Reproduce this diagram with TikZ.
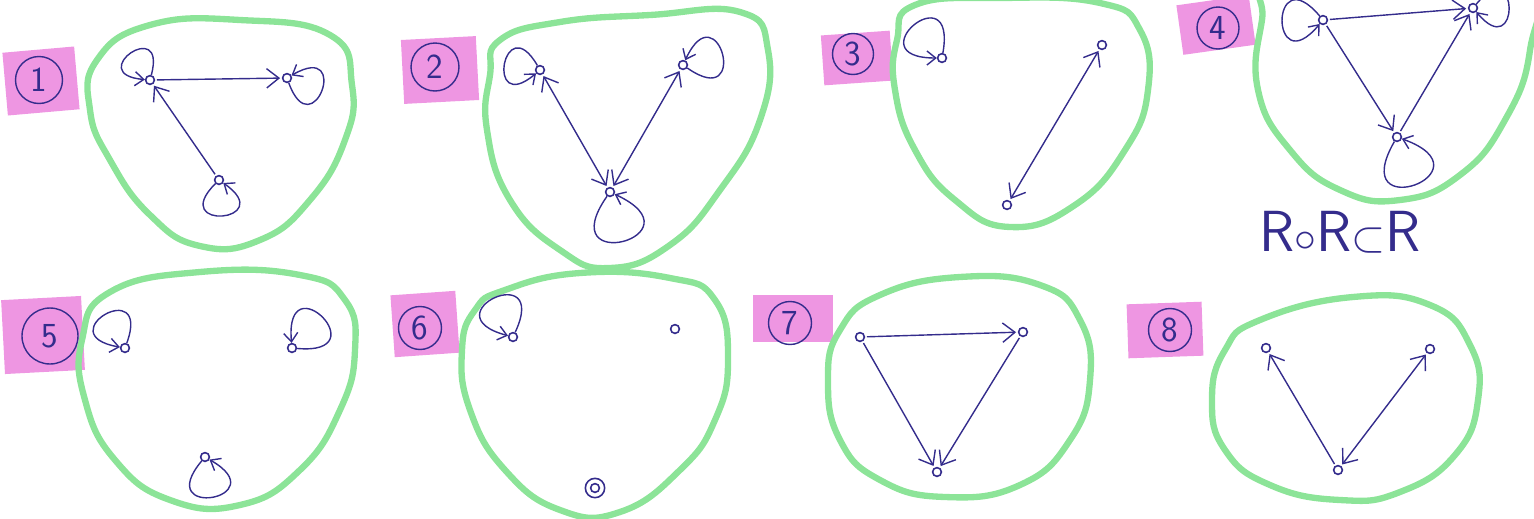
\documentclass[tikz,border=0pt]{standalone}
\usepackage{amsmath, amssymb}
\usepackage{tikz}
\usetikzlibrary{arrows.meta, positioning}
\definecolor{ink}{RGB}{52,44,140}
\definecolor{hullgreen}{RGB}{140,228,152}
\definecolor{marker}{RGB}{238,150,226}

\tikzset{
  vertex/.style={circle, draw=ink, line width=0.9pt, inner sep=0pt, minimum size=5pt},
  rel/.style={draw=ink, line width=0.8pt, shorten >=1pt, shorten <=1pt, -{Straight Barb[length=7pt, width=11pt]}},
  sym/.style={rel, {Straight Barb[length=7pt, width=11pt]}-{Straight Barb[length=7pt, width=11pt]}},
  refl/.style={draw=ink, line width=0.8pt, -{Straight Barb[length=5pt, width=8pt]}},
  hull/.style={draw=hullgreen, line width=3.6pt, line join=round},
  patch/.style={fill=marker, inner sep=0pt},
  badge/.style={circle, draw=ink, line width=0.8pt, inner sep=0pt, text=ink, font=\sffamily\fontsize{20}{20}\selectfont},
}

\begin{document}
\begin{tikzpicture}[x=0.02cm, y=0.02cm]
\useasboundingbox (0,0) rectangle (1534,-518);
% Numbered badges on marker patches
\foreach \i/\px/\py/\w/\h/\r/\bx/\by/\s in {1/41/81/1.44/1.26/5/39/80/0.94, 2/440/70/1.50/1.28/3/435/67/0.96,
  3/857/58/1.38/1.00/4/853/54/0.82, 4/1216/25/1.46/1.00/8/1218/28/0.84, 5/43/335/1.60/1.48/3/50/336/1.12,
  6/425/324/1.30/1.24/4/420/328/0.86, 7/793/318/1.60/0.94/0/790/323/0.86, 8/1165/330/1.50/1.08/2/1170/330/0.86} {
  \node[patch, minimum width=\w cm, minimum height=\h cm, rotate=\r] (p\i) at (\px,-\py) {};
  \node[badge, minimum size=\s cm] (n\i) at (\bx,-\by) {\i};
}
% Green outlines round each set
\draw[hull] plot[smooth cycle, tension=0.8] coordinates {(150,-25) (240,-20) (330,-35) (352,-85) (345,-140) (310,-200) (260,-240) (200,-246) (150,-215) (110,-160) (90,-110) (97,-60)};
\draw[hull] plot[smooth cycle, tension=0.8] coordinates {(500,-40) (560,-22) (650,-15) (740,-12) (768,-50) (760,-120) (720,-190) (670,-245) (610,-268) (560,-250) (510,-200) (487,-130) (490,-75)};
\draw[hull] plot[smooth cycle, tension=0.8] coordinates {(915,-5) (1000,2) (1100,-3) (1140,-30) (1148,-90) (1125,-150) (1075,-205) (1010,-227) (955,-200) (915,-150) (895,-90) (897,-40)};
\draw[hull] plot[smooth cycle, tension=0.8] coordinates {(1275,20) (1400,30) (1525,20) (1530,-50) (1505,-120) (1460,-175) (1400,-200) (1340,-190) (1290,-150) (1258,-90) (1262,-20)};
\draw[hull] plot[smooth cycle, tension=0.8] coordinates {(110,-292) (200,-272) (300,-275) (345,-300) (355,-350) (340,-410) (300,-470) (240,-505) (170,-500) (115,-460) (85,-400) (82,-340)};
\draw[hull] plot[smooth cycle, tension=0.8] coordinates {(505,-290) (580,-273) (670,-278) (715,-300) (728,-360) (715,-420) (680,-470) (620,-512) (560,-510) (505,-470) (470,-410) (462,-350) (475,-310)};
\draw[hull] plot[smooth cycle, tension=0.8] coordinates {(880,-295) (960,-277) (1040,-285) (1080,-320) (1090,-380) (1070,-440) (1020,-485) (945,-497) (880,-480) (840,-440) (828,-380) (840,-330)};
\draw[hull] plot[smooth cycle, tension=0.8] coordinates {(1260,-320) (1353,-297) (1430,-305) (1470,-345) (1478,-400) (1455,-455) (1400,-492) (1340,-500) (1270,-485) (1225,-450) (1212,-400) (1225,-350)};

% Set 1
\node[vertex] (a1) at (150,-80) {};
\node[vertex] (b1) at (287,-78) {};
\node[vertex] (c1) at (219,-180) {};
\draw[rel] (a1) -- (b1);
\draw[rel] (c1) -- (a1);
\draw[refl] (a1) .. controls +(75:67) and +(175:67) .. (a1);
\draw[refl] (b1) .. controls +(-70:75) and +(30:75) .. (b1);
\draw[refl] (c1) .. controls +(-135:73) and +(-35:73) .. (c1);

% Set 2
\node[vertex] (a2) at (540,-70) {};
\node[vertex] (b2) at (683,-65) {};
\node[vertex] (c2) at (610,-192) {};
\draw[sym] (a2) -- (c2);
\draw[sym] (b2) -- (c2);
\draw[refl] (a2) .. controls +(120:73) and +(220:73) .. (a2);
\draw[refl] (b2) .. controls +(-35:83) and +(65:83) .. (b2);
\draw[refl] (c2) .. controls +(-125:104) and +(-25:104) .. (c2);

% Set 3
\node[vertex] (a3) at (942,-58) {};
\node[vertex] (b3) at (1102,-45) {};
\node[vertex] (c3) at (1007,-205) {};
\draw[sym] (b3) -- (c3);
\draw[refl] (a3) .. controls +(80:88) and +(180:88) .. (a3);

% Set 4
\node[vertex] (a4) at (1323,-20) {};
\node[vertex] (b4) at (1473,-8) {};
\node[vertex] (c4) at (1397,-137) {};
\draw[rel] (a4) -- (b4);
\draw[rel] (a4) -- (c4);
\draw[rel] (c4) -- (b4);
\draw[refl] (a4) .. controls +(130:83) and +(230:83) .. (a4);
\draw[refl] (b4) .. controls +(50:73) and +(-50:73) .. (b4);
\draw[refl] (c4) .. controls +(-120:104) and +(-20:104) .. (c4);
\node[text=ink, font=\sffamily\fontsize{33}{33}\selectfont] (rule) at (1340,-232) {R${\circ}$R${\subset}$R};

% Set 5
\node[vertex] (a5) at (125,-348) {};
\node[vertex] (b5) at (292,-348) {};
\node[vertex] (c5) at (205,-457) {};
\draw[refl] (a5) .. controls +(70:79) and +(170:79) .. (a5);
\draw[refl] (b5) .. controls +(-5:88) and +(95:88) .. (b5);
\draw[refl] (c5) .. controls +(-130:83) and +(-30:83) .. (c5);

% Set 6
\node[vertex] (a6) at (513,-337) {};
\node[vertex] (b6) at (675,-329) {};
\node[vertex] (c6) at (595,-488) {};
\node[vertex, minimum size=11pt] (c6ring) at (c6) {};
\draw[refl] (a6) .. controls +(65:88) and +(165:88) .. (a6);

% Set 7
\node[vertex] (a7) at (860,-337) {};
\node[vertex] (b7) at (1023,-332) {};
\node[vertex] (c7) at (937,-472) {};
\draw[rel] (a7) -- (b7);
\draw[rel] (a7) -- (c7);
\draw[rel] (b7) -- (c7);

% Set 8
\node[vertex] (a8) at (1266,-348) {};
\node[vertex] (b8) at (1430,-349) {};
\node[vertex] (c8) at (1338,-470) {};
\draw[rel] (c8) -- (a8);
\draw[sym] (c8) -- (b8);
\end{tikzpicture}
\end{document}
